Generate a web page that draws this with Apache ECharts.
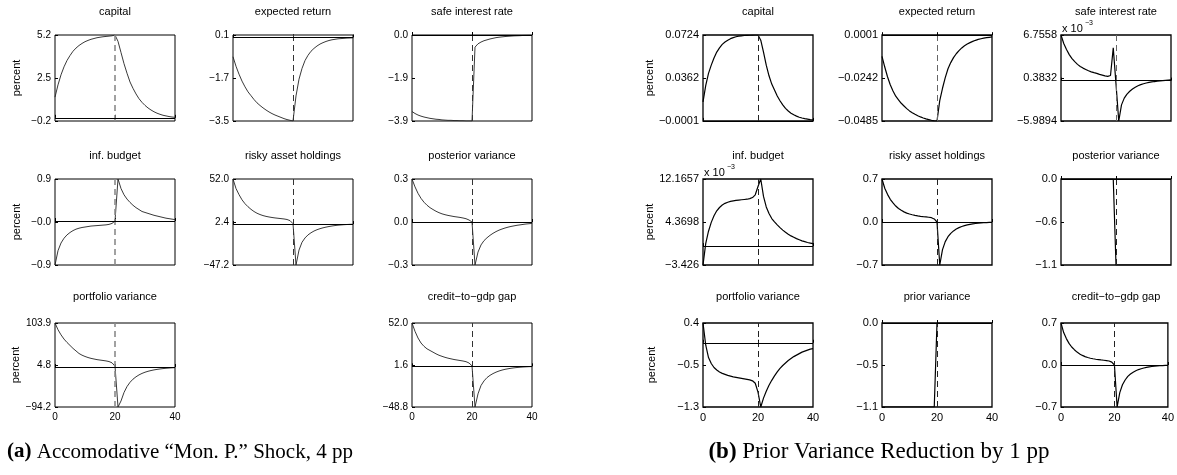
<!DOCTYPE html>
<html>
<head>
<meta charset="utf-8">
<script src="https://cdn.jsdelivr.net/npm/echarts@6/dist/echarts.min.js"></script>
<style>
  html, body { margin: 0; padding: 0; background: #fff; }
  #chart { width: 1177px; height: 475px; }
</style>
</head>
<body>
<div id="chart"></div>
<script>
// periods after shock
var periods = [0,1,2,3,4,5,6,7,8,9,10,11,12,13,14,15,16,17,18,19,20,21,22,23,24,25,26,27,28,29,30,31,32,33,34,35,36,37,38,39,40];

// (a) accomodative monetary policy shock
var capitalA = [1.3,2.07,2.7,3.2,3.6,3.91,4.18,4.38,4.54,4.67,4.78,4.86,4.93,4.98,5.03,5.06,5.09,5.11,5.13,5.15,5.2,
  4.8,4.1,3.4,2.8,2.25,1.85,1.5,1.2,0.97,0.78,0.62,0.49,0.38,0.29,0.22,0.16,0.12,0.08,0.05,0.03];
var expReturnA = [-0.81,-1.21,-1.54,-1.83,-2.07,-2.28,-2.44,-2.6,-2.74,-2.85,-2.95,-3.04,-3.12,-3.19,-3.25,-3.3,-3.35,-3.4,-3.44,-3.47,-3.5,
  -2.45,-1.75,-1.3,-0.97,-0.75,-0.58,-0.46,-0.36,-0.28,-0.22,-0.17,-0.13,-0.1,-0.08,-0.06,-0.05,-0.04,-0.03,-0.025,-0.02];
var safeRateA = [-3.47,-3.56,-3.63,-3.68,-3.72,-3.75,-3.78,-3.8,-3.82,-3.83,-3.85,-3.86,-3.87,-3.87,-3.88,-3.88,-3.89,-3.89,-3.9,-3.9,-3.9,
  -0.55,-0.4,-0.32,-0.26,-0.22,-0.18,-0.15,-0.12,-0.1,-0.085,-0.07,-0.06,-0.05,-0.04,-0.035,-0.03,-0.02,-0.015,-0.01,-0.01];
var infBudgetA = [-0.92,-0.62,-0.46,-0.36,-0.29,-0.24,-0.2,-0.17,-0.15,-0.135,-0.125,-0.115,-0.105,-0.1,-0.095,-0.09,-0.085,-0.08,-0.07,-0.05,0,
  0.88,0.68,0.55,0.46,0.39,0.33,0.28,0.24,0.2,0.18,0.16,0.14,0.12,0.105,0.09,0.075,0.06,0.05,0.04,0.03];
var riskyA = [52,41,34,28,23.5,20,17,14.5,12.5,11,9.8,8.9,8.2,7.6,7.1,6.7,6.3,5.9,5.3,4,0.5,
  -47.2,-30,-21,-16,-12.5,-10,-8,-6.5,-5.3,-4.3,-3.5,-2.8,-2.2,-1.7,-1.3,-1,-0.7,-0.5,-0.3,-0.2];
var posteriorA = [0.3,0.245,0.2,0.165,0.138,0.117,0.1,0.087,0.075,0.065,0.057,0.051,0.046,0.042,0.038,0.035,0.032,0.028,0.023,0.014,0,
  -0.3,-0.21,-0.16,-0.13,-0.11,-0.093,-0.079,-0.067,-0.057,-0.049,-0.042,-0.036,-0.031,-0.027,-0.023,-0.02,-0.017,-0.014,-0.012,-0.01];
var portfolioA = [103.9,88,76,66,58,51,44,38,32,28,25,22.5,20.5,19,17.5,16.5,15.5,14.5,13,10,2,
  -94.2,-80,-60,-46,-36,-28.5,-23,-18.5,-15,-12.2,-10,-8.2,-6.7,-5.5,-4.5,-3.6,-2.9,-2.3,-1.8,-1.4];
var creditA = [52,42,34,28,24,21,19,17,15,13.3,12,10.8,9.8,9,8.2,7.6,7,6.4,5.6,4,0.6,
  -48.8,-33,-23,-17.5,-13.5,-10.8,-8.7,-7,-5.6,-4.5,-3.6,-2.9,-2.3,-1.8,-1.4,-1.1,-0.8,-0.6,-0.4,-0.3];

// (b) prior variance reduction
var capitalB = [0.016,0.03,0.04,0.047,0.053,0.058,0.0615,0.0645,0.0665,0.068,0.0693,0.0702,0.0709,0.0714,0.0717,0.072,0.0721,0.0722,0.0723,0.0724,0.0724,
  0.068,0.058,0.047,0.038,0.031,0.026,0.021,0.017,0.0135,0.0105,0.0083,0.0065,0.0051,0.004,0.0031,0.0024,0.0019,0.0015,0.0011,0.0009];
var expReturnB = [-0.012,-0.018,-0.0235,-0.028,-0.0315,-0.0345,-0.0365,-0.0385,-0.04,-0.0415,-0.0428,-0.0438,-0.0447,-0.0455,-0.0462,-0.0468,-0.0473,-0.0477,-0.0481,-0.0484,-0.0485,
  -0.037,-0.03,-0.024,-0.019,-0.0155,-0.0127,-0.0105,-0.0087,-0.0072,-0.006,-0.005,-0.0042,-0.0035,-0.0029,-0.0024,-0.002,-0.0017,-0.0014,-0.0012,-0.001];
var safeRateB = [6.7558,5.5,4.6,3.85,3.25,2.8,2.4,2.1,1.85,1.65,1.45,1.3,1.17,1.06,0.92,0.82,0.7,0.62,0.75,4.85,-0.5,
  -5.9894,-3.6,-2.6,-2.0,-1.58,-1.25,-0.98,-0.77,-0.6,-0.47,-0.36,-0.27,-0.2,-0.14,-0.09,-0.05,0,0.04,0.07,0.1]; // x 10^-3
var infBudgetB = [-3.426,0.5,2.7,4.3,5.5,6.4,7.0,7.45,7.75,7.95,8.1,8.2,8.28,8.35,8.4,8.45,8.5,8.6,8.8,9.3,10.8,
  12.1657,9.0,7.1,5.9,5.0,4.4,3.85,3.35,2.9,2.5,2.15,1.85,1.6,1.35,1.15,0.95,0.8,0.65,0.55,0.45]; // x 10^-3
var riskyB = [0.7,0.55,0.45,0.37,0.31,0.26,0.22,0.19,0.165,0.145,0.13,0.118,0.108,0.1,0.093,0.087,0.082,0.077,0.07,0.05,0,
  -0.7,-0.45,-0.32,-0.24,-0.185,-0.145,-0.115,-0.092,-0.074,-0.06,-0.048,-0.038,-0.03,-0.024,-0.019,-0.015,-0.012,-0.009,-0.007,-0.005];
var posteriorB = [0,0,0,0,0,0,0,0,0,0,0,0,0,0,0,0,0,0,0,0,
  -1.1,-1.1,-1.1,-1.1,-1.1,-1.1,-1.1,-1.1,-1.1,-1.1,-1.1,-1.1,-1.1,-1.1,-1.1,-1.1,-1.1,-1.1,-1.1,-1.1,-1.1];
var portfolioB = [0.4,-0.05,-0.3,-0.42,-0.5,-0.55,-0.59,-0.62,-0.64,-0.66,-0.675,-0.69,-0.7,-0.71,-0.72,-0.73,-0.74,-0.75,-0.77,-0.82,-1.0,
  -1.3,-1.12,-0.98,-0.86,-0.76,-0.67,-0.59,-0.52,-0.46,-0.41,-0.36,-0.32,-0.28,-0.25,-0.22,-0.19,-0.17,-0.15,-0.13,-0.12];
var priorB = [-1.05,-1.05,-1.05,-1.05,-1.05,-1.05,-1.05,-1.05,-1.05,-1.05,-1.05,-1.05,-1.05,-1.05,-1.05,-1.05,-1.05,-1.05,-1.05,-1.05,
  0,0,0,0,0,0,0,0,0,0,0,0,0,0,0,0,0,0,0,0,0];
var creditB = [0.7,0.54,0.44,0.36,0.3,0.255,0.215,0.185,0.16,0.14,0.125,0.113,0.104,0.096,0.09,0.084,0.079,0.074,0.067,0.048,0,
  -0.7,-0.46,-0.33,-0.25,-0.19,-0.15,-0.12,-0.095,-0.076,-0.062,-0.05,-0.04,-0.032,-0.025,-0.02,-0.016,-0.012,-0.009,-0.007,-0.005];

// y axis ranges [min, max] and the three tick labels
var M = '\u2212';
var capitalARange = [-0.2, 5.2],      capitalALabels = [M+'0.2', '2.5', '5.2'];
var expReturnARange = [-3.5, 0.1],    expReturnALabels = [M+'3.5', M+'1.7', '0.1'];
var safeRateARange = [-3.9, 0.0],     safeRateALabels = [M+'3.9', M+'1.9', '0.0'];
var infBudgetARange = [-0.92, 0.88],  infBudgetALabels = [M+'0.9', M+'0.0', '0.9'];
var riskyARange = [-47.2, 52.0],      riskyALabels = [M+'47.2', '2.4', '52.0'];
var posteriorARange = [-0.3, 0.3],    posteriorALabels = [M+'0.3', '0.0', '0.3'];
var portfolioARange = [-94.2, 103.9], portfolioALabels = [M+'94.2', '4.8', '103.9'];
var creditARange = [-48.8, 52.0],     creditALabels = [M+'48.8', '1.6', '52.0'];
var capitalBRange = [-0.0001, 0.0724],   capitalBLabels = [M+'0.0001', '0.0362', '0.0724'];
var expReturnBRange = [-0.0485, 0.0001], expReturnBLabels = [M+'0.0485', M+'0.0242', '0.0001'];
var safeRateBRange = [-5.9894, 6.7558],  safeRateBLabels = [M+'5.9894', '0.3832', '6.7558'];
var infBudgetBRange = [-3.426, 12.1657], infBudgetBLabels = [M+'3.426', '4.3698', '12.1657'];
var riskyBRange = [-0.7, 0.7],        riskyBLabels = [M+'0.7', '0.0', '0.7'];
var posteriorBRange = [-1.1, 0.0],    posteriorBLabels = [M+'1.1', M+'0.6', '0.0'];
var portfolioBRange = [-1.3, 0.4],    portfolioBLabels = [M+'1.3', M+'0.5', '0.4'];
var priorBRange = [-1.05, 0.0],       priorBLabels = [M+'1.1', M+'0.5', '0.0'];
var creditBRange = [-0.7, 0.7],       creditBLabels = [M+'0.7', '0.0', '0.7'];

var xTickLabels = ['0', '20', '40'];

var plots = [
  {p: 'a', r: 0, c: 0, title: 'capital', data: capitalA, range: capitalARange, labels: capitalALabels, dash: '#8a8a8a'},
  {p: 'a', r: 0, c: 1, title: 'expected return', data: expReturnA, range: expReturnARange, labels: expReturnALabels, dash: '#333'},
  {p: 'a', r: 0, c: 2, title: 'safe interest rate', data: safeRateA, range: safeRateARange, labels: safeRateALabels, dash: '#333'},
  {p: 'a', r: 1, c: 0, title: 'inf. budget', data: infBudgetA, range: infBudgetARange, labels: infBudgetALabels, dash: '#8a8a8a'},
  {p: 'a', r: 1, c: 1, title: 'risky asset holdings', data: riskyA, range: riskyARange, labels: riskyALabels, dash: '#333'},
  {p: 'a', r: 1, c: 2, title: 'posterior variance', data: posteriorA, range: posteriorARange, labels: posteriorALabels, dash: '#333'},
  {p: 'a', r: 2, c: 0, title: 'portfolio variance', data: portfolioA, range: portfolioARange, labels: portfolioALabels, dash: '#8a8a8a'},
  {p: 'a', r: 2, c: 2, title: 'credit\u2212to\u2212gdp gap', data: creditA, range: creditARange, labels: creditALabels, dash: '#333'},
  {p: 'b', r: 0, c: 0, title: 'capital', data: capitalB, range: capitalBRange, labels: capitalBLabels, dash: '#222'},
  {p: 'b', r: 0, c: 1, title: 'expected return', data: expReturnB, range: expReturnBRange, labels: expReturnBLabels, dash: '#666'},
  {p: 'b', r: 0, c: 2, title: 'safe interest rate', data: safeRateB, range: safeRateBRange, labels: safeRateBLabels, dash: '#666', e3: true},
  {p: 'b', r: 1, c: 0, title: 'inf. budget', data: infBudgetB, range: infBudgetBRange, labels: infBudgetBLabels, dash: '#222', e3: true},
  {p: 'b', r: 1, c: 1, title: 'risky asset holdings', data: riskyB, range: riskyBRange, labels: riskyBLabels, dash: '#222'},
  {p: 'b', r: 1, c: 2, title: 'posterior variance', data: posteriorB, range: posteriorBRange, labels: posteriorBLabels, dash: '#222'},
  {p: 'b', r: 2, c: 0, title: 'portfolio variance', data: portfolioB, range: portfolioBRange, labels: portfolioBLabels, dash: '#222'},
  {p: 'b', r: 2, c: 1, title: 'prior variance', data: priorB, range: priorBRange, labels: priorBLabels, dash: '#222'},
  {p: 'b', r: 2, c: 2, title: 'credit\u2212to\u2212gdp gap', data: creditB, range: creditBRange, labels: creditBLabels, dash: '#222'}
];

var panelLayout = {
  a: {cols: [55, 233, 412], width: 120, tickFont: 10, lineColor: '#222', lineWidth: 0.9, border: 1, nameGap: 33},
  b: {cols: [703, 882, 1061], width: 110, tickFont: 11, lineColor: '#000', lineWidth: 1.2, border: 1.3, nameGap: 46}
};
var rowTops = [35, 179, 323];
var rowHeights = [86, 86, 84];
var sans = '"Liberation Sans", Arial, sans-serif';

var grids = [], xAxes = [], yAxes = [], series = [], graphics = [];

plots.forEach(function (pl, i) {
  var L = panelLayout[pl.p];
  var left = L.cols[pl.c], top = rowTops[pl.r], h = rowHeights[pl.r];
  var lo = pl.range[0], hi = pl.range[1];
  var mids = [lo, (lo + hi) / 2, hi];
  var labels = pl.labels;

  grids.push({left: left, top: top, width: L.width, height: h, show: true,
    borderColor: '#000', borderWidth: L.border, backgroundColor: 'transparent'});

  xAxes.push({
    gridIndex: i, type: 'value', min: 0, max: 40, interval: 20,
    axisLine: {show: false},
    axisTick: {show: true, inside: true, length: 3, lineStyle: {color: '#000'}},
    splitLine: {show: false},
    axisLabel: {show: pl.r === 2, margin: 5, fontSize: L.tickFont, color: '#000', fontFamily: sans,
      formatter: function (v) { return xTickLabels[Math.round(v / 20)]; }}
  });

  yAxes.push({
    gridIndex: i, type: 'value', min: lo, max: hi, interval: (hi - lo) / 2,
    axisLine: {show: false},
    axisTick: {show: true, inside: true, length: 3, lineStyle: {color: '#000'}},
    splitLine: {show: false},
    name: pl.c === 0 ? 'percent' : '',
    nameLocation: 'middle', nameGap: L.nameGap, nameRotate: 90,
    nameTextStyle: {fontSize: 11, color: '#000', fontFamily: sans},
    axisLabel: {margin: 4, fontSize: L.tickFont, color: '#000', fontFamily: sans,
      formatter: function (v) {
        var best = 0;
        for (var k = 1; k < 3; k++) if (Math.abs(v - mids[k]) < Math.abs(v - mids[best])) best = k;
        return labels[best];
      }}
  });

  series.push({
    type: 'line', xAxisIndex: i, yAxisIndex: i,
    data: periods.map(function (t, k) { return [t, pl.data[k]]; }),
    showSymbol: false, symbol: 'none', smooth: false, clip: true,
    lineStyle: {color: L.lineColor, width: L.lineWidth},
    markLine: {
      silent: true, symbol: ['none', 'none'], label: {show: false}, animation: false,
      data: [
        {xAxis: 20, lineStyle: {type: [6, 4], color: pl.dash, width: pl.dash === '#8a8a8a' ? 1.6 : 1}},
        {yAxis: 0, lineStyle: {type: 'solid', color: '#000', width: 1}}
      ]
    }
  });

  graphics.push({type: 'text', x: left + L.width / 2, y: top - (pl.r === 2 ? 26 : 23),
    style: {text: pl.title, fontSize: 11, fontFamily: sans, fill: '#000',
      textAlign: 'center', textVerticalAlign: 'middle'}});

  if (pl.e3) {
    graphics.push({type: 'text', x: left + 1, y: top - 6,
      style: {text: 'x 10', fontSize: 11, fontFamily: sans, fill: '#000', textAlign: 'left', textVerticalAlign: 'middle'}});
    graphics.push({type: 'text', x: left + 24, y: top - 12,
      style: {text: M + '3', fontSize: 7, fontFamily: sans, fill: '#000', textAlign: 'left', textVerticalAlign: 'middle'}});
  }
});

var serif = '"Liberation Serif", "DejaVu Serif", serif';
graphics.push({type: 'text', x: 180, y: 452,
  style: {text: '{b|(a)} Accomodative \u201cMon. P.\u201d Shock, 4 pp', fontSize: 21, fontFamily: serif, fill: '#000',
    textAlign: 'center', textVerticalAlign: 'middle',
    rich: {b: {fontWeight: 'bold', fontSize: 21, fontFamily: serif}}}});
graphics.push({type: 'text', x: 879, y: 452,
  style: {text: '{b|(b)} Prior Variance Reduction by 1 pp', fontSize: 23, fontFamily: serif, fill: '#000',
    textAlign: 'center', textVerticalAlign: 'middle',
    rich: {b: {fontWeight: 'bold', fontSize: 23, fontFamily: serif}}}});

var chart = echarts.init(document.getElementById('chart'), null, {renderer: 'canvas'});
chart.setOption({
  animation: false,
  backgroundColor: '#fff',
  grid: grids,
  xAxis: xAxes,
  yAxis: yAxes,
  series: series,
  graphic: graphics
});
</script>
</body>
</html>
